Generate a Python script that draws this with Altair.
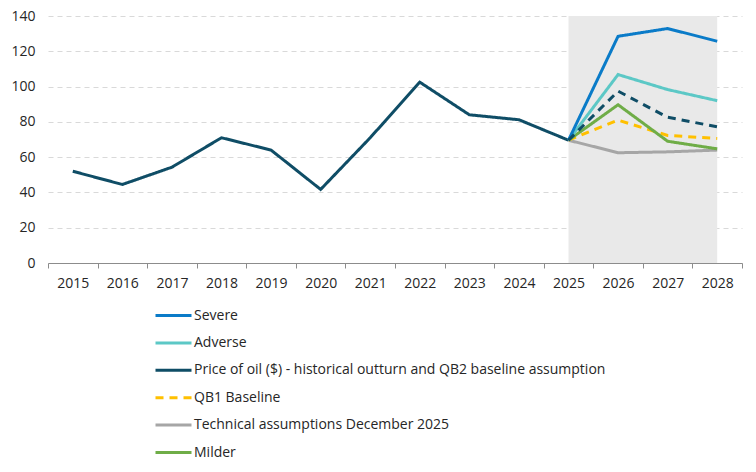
import altair as alt
import pandas as pd

years = [str(y) for y in range(2015, 2029)]

hist_years = ["2015", "2016", "2017", "2018", "2019", "2020", "2021", "2022", "2023", "2024", "2025"]
hist_values = [52, 44.5, 54.3, 71, 64, 41.7, 71, 102.5, 84, 81.2, 69.6]

proj_years = ["2025", "2026", "2027", "2028"]
qb2_baseline = [69.6, 97.4, 82.6, 77.2]
severe = [69.6, 128.5, 132.9, 125.7]
adverse = [69.6, 106.8, 98.3, 92.0]
qb1_baseline = [69.6, 81.0, 72.3, 70.6]
technical = [69.6, 62.5, 63.0, 64.0]
milder = [69.6, 89.7, 69.0, 64.7]

series_names = [
    "Severe",
    "Adverse",
    "Price of oil ($) - historical outturn and QB2 baseline assumption",
    "QB1 Baseline",
    "Technical assumptions December 2025",
    "Milder",
]
series_colors = ["#0A7BC8", "#5CC8C6", "#0F4D66", "#FFC000", "#A6A6A6", "#6FAD47"]
series_dash = [[1, 0], [1, 0], [1, 0], [8, 6], [1, 0], [1, 0]]

y_ticks = [0, 20, 40, 60, 80, 100, 120, 140]

shade_start = ["2025"]
shade_end = ["2028"]

# draw order (back to front)
draw = [
    (series_names[4], proj_years, technical),
    (series_names[3], proj_years, qb1_baseline),
    (series_names[5], proj_years, milder),
    (series_names[2], hist_years, hist_values),
    (series_names[1], proj_years, adverse),
    (series_names[0], proj_years, severe),
]
rows = []
for name, ys, vs in draw:
    for y, v in zip(ys, vs):
        rows.append({"year": y, "value": v, "series": name})
df = pd.DataFrame(rows)

dash_df = pd.DataFrame({"year": proj_years, "value": qb2_baseline})
shade_df = pd.DataFrame({"start": shade_start, "end": shade_end})

font = "Open Sans"
text_color = "#262626"

x_scale = alt.Scale(type="band", domain=years, paddingInner=0, paddingOuter=0)
y_scale = alt.Scale(domain=[0, 140], nice=False)

x_axis = alt.Axis(
    title=None,
    tickBand="extent",
    labelAngle=0,
    labelAlign="center",
    domainColor="#8C8C8C",
    tickColor="#8C8C8C",
    tickSize=5,
    labelPadding=8,
)
y_axis = alt.Axis(
    title=None,
    values=y_ticks,
    tickCount=8,
    labelOverlap=False,
    grid=True,
    gridDash=[5, 4],
    gridColor="#D9D9D9",
    gridWidth=1,
    domain=False,
    ticks=False,
    labelPadding=13,
)

shade = alt.Chart(shade_df).mark_rect(color="#E9E9E9").encode(
    x=alt.X("start:O", scale=x_scale, bandPosition=0.5, axis=x_axis),
    x2=alt.X2("end", bandPosition=0.5),
    y=alt.value(0),
    y2=alt.value(247),
)

lines = alt.Chart(df).mark_line(strokeWidth=3).encode(
    x=alt.X("year:O", scale=x_scale, bandPosition=0.5, axis=x_axis),
    y=alt.Y("value:Q", scale=y_scale, axis=y_axis),
    color=alt.Color(
        "series:N",
        scale=alt.Scale(domain=series_names, range=series_colors),
        legend=alt.Legend(
            title=None,
            orient="none",
            legendX=115,
            legendY=289,
            direction="vertical",
            symbolType="M-2,0H2",
            symbolSize=324,
            symbolStrokeWidth=3,
            symbolFillColor="transparent",
            rowPadding=9.4,
            labelOffset=10,
            padding=0,
        ),
    ),
    strokeDash=alt.StrokeDash(
        "series:N",
        scale=alt.Scale(domain=series_names, range=series_dash),
        legend=None,
    ),
    detail="series:N",
)

dashed = alt.Chart(dash_df).mark_line(strokeWidth=3, strokeDash=[8, 6], color="#0F4D66").encode(
    x=alt.X("year:O", scale=x_scale, bandPosition=0.5, axis=x_axis),
    y=alt.Y("value:Q", scale=y_scale, axis=y_axis),
)

chart = (
    alt.layer(shade, lines, dashed)
    .properties(
        width=694,
        height=247,
        autosize=alt.AutoSizeParams(type="none"),
        padding={"left": 48, "top": 16, "right": 14, "bottom": 209},
    )
    .configure_view(stroke=None)
    .configure_axis(labelFont=font, labelFontSize=14, labelColor=text_color)
    .configure_legend(labelFont=font, labelFontSize=14, labelColor=text_color, labelLimit=0)
)

chart.save("out.html", embed_options={"renderer": "svg", "actions": False})
